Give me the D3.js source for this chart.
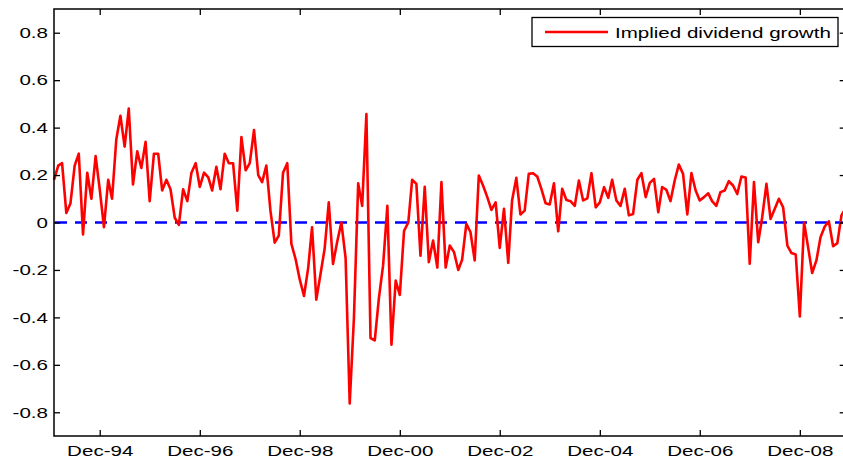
<!DOCTYPE html>
<html>
<head>
<meta charset="utf-8">
<script src="https://cdn.jsdelivr.net/npm/d3@7"></script>
<style>
  body { margin: 0; background: #fff; }
  svg { display: block; }
</style>
</head>
<body>
<div id="wrapper"></div>
<script>

// monthly series, Jan-94 .. Nov-09
const startYear = 1994;
const growth = [
    0.18, 0.24, 0.25, 0.04, 0.08, 0.24, 0.29, -0.05, 0.21, 0.10, 0.28, 0.14,
    -0.02, 0.18, 0.10, 0.35, 0.45, 0.32, 0.48, 0.16, 0.30, 0.23, 0.34, 0.09,
    0.29, 0.29, 0.135, 0.18, 0.14, 0.02, -0.01, 0.14, 0.09, 0.21, 0.25, 0.15,
    0.21, 0.19, 0.135, 0.235, 0.14, 0.29, 0.25, 0.25, 0.05, 0.36, 0.22, 0.25,
    0.39, 0.20, 0.17, 0.24, 0.05, -0.085, -0.055, 0.21, 0.25, -0.09, -0.155, -0.24,
    -0.31, -0.19, -0.02, -0.325, -0.22, -0.11, 0.085, -0.175, -0.08, 0.00, -0.15, -0.763,
    -0.40, 0.165, 0.07, 0.457, -0.487, -0.497, -0.32, -0.18, 0.07, -0.515, -0.245, -0.305,
    -0.035, 0.00, 0.18, 0.163, -0.14, 0.15, -0.167, -0.076, -0.19, 0.17, -0.19, -0.097,
    -0.125, -0.20, -0.157, -0.006, -0.04, -0.16, 0.198, 0.156, 0.107, 0.053, 0.085, -0.107,
    0.058, -0.17, 0.093, 0.188, 0.034, 0.05, 0.205, 0.208, 0.194, 0.142, 0.081, 0.076,
    0.165, -0.037, 0.142, 0.095, 0.09, 0.07, 0.177, 0.093, 0.102, 0.208, 0.064, 0.085,
    0.149, 0.104, 0.18, 0.093, 0.07, 0.142, 0.03, 0.036, 0.18, 0.208, 0.107, 0.167,
    0.184, 0.043, 0.149, 0.138, 0.09, 0.177, 0.244, 0.205, 0.034, 0.208, 0.135, 0.093,
    0.107, 0.123, 0.09, 0.07, 0.128, 0.135, 0.174, 0.156, 0.12, 0.194, 0.19, -0.174,
    0.17, -0.083, 0.022, 0.163, 0.015, 0.058, 0.10, 0.064, -0.097, -0.129, -0.135, -0.396,
    0.00, -0.11, -0.213, -0.16, -0.062, -0.017, 0.005, -0.10, -0.087, 0.03, 0.06
];

const xTickYears = [1994, 1996, 1998, 2000, 2002, 2004, 2006, 2008];
const xTickLabels = ["Dec-94", "Dec-96", "Dec-98", "Dec-00", "Dec-02", "Dec-04", "Dec-06", "Dec-08"];
const yTicks = [-0.8, -0.6, -0.4, -0.2, 0, 0.2, 0.4, 0.6, 0.8];
const yTickLabels = ["-0.8", "-0.6", "-0.4", "-0.2", "0", "0.2", "0.4", "0.6", "0.8"];
const seriesName = "Implied dividend growth";

function drawChart() {

    const data = growth.map((v, i) => ({ date: new Date(startYear, i, 1), value: v }));

    const xAccessor = d => d.date;
    const yAccessor = d => d.value;

    // dimensions (plot box runs slightly past the right edge of the picture)
    const dms = {
        width: 843,
        height: 462,
        left: 54,
        right: 845.7,
        top: 9,
        bottom: 436
    };

    const font = "'Liberation Sans', Arial, sans-serif";
    const stretch = 1.37;   // labels in the picture are stretched horizontally

    const svg = d3.select("#wrapper")
                    .append("svg")
                        .attr("width", dms.width)
                        .attr("height", dms.height);

    svg.append("rect")
        .attr("width", dms.width)
        .attr("height", dms.height)
        .attr("fill", "white");

    // scales
    const xScale = d3.scaleTime()
                    .domain(d3.extent(data, xAccessor))
                    .range([dms.left, dms.right]);

    const yScale = d3.scaleLinear()
                    .domain([-0.9, 0.9])
                    .range([dms.bottom, dms.top]);

    const xTickDates = xTickYears.map(y => new Date(y, 11, 1));

    // zero line
    svg.append("line")
        .attr("x1", dms.left + 1)
        .attr("x2", dms.right)
        .attr("y1", yScale(0))
        .attr("y2", yScale(0))
        .attr("stroke", "#0000ff")
        .attr("stroke-width", 2.3)
        .attr("stroke-dasharray", "12 8");

    // series
    const lineGenerator = d3.line()
                            .x(d => xScale(xAccessor(d)))
                            .y(d => yScale(yAccessor(d)));

    svg.append("path")
        .datum(data)
        .attr("d", lineGenerator)
        .attr("fill", "none")
        .attr("stroke", "#ff0000")
        .attr("stroke-width", 2.6)
        .attr("stroke-linejoin", "round");

    // axes, ticks pointing inward
    const xAxisBottom = d3.axisBottom(xScale)
                            .tickValues(xTickDates)
                            .tickSize(-6)
                            .tickPadding(9)
                            .tickFormat((d, i) => xTickLabels[i]);

    const xAxisTop = d3.axisTop(xScale)
                            .tickValues(xTickDates)
                            .tickSize(-6)
                            .tickFormat("");

    const yAxisLeft = d3.axisLeft(yScale)
                            .tickValues(yTicks)
                            .tickSize(-6)
                            .tickPadding(4.4)
                            .tickFormat((d, i) => yTickLabels[i]);

    const yAxisRight = d3.axisRight(yScale)
                            .tickValues(yTicks)
                            .tickSize(-6)
                            .tickFormat("");

    const axes = [
        svg.append("g").attr("transform", `translate(0, ${dms.bottom})`).call(xAxisBottom),
        svg.append("g").attr("transform", `translate(0, ${dms.top})`).call(xAxisTop),
        svg.append("g").attr("transform", `translate(${dms.left}, 0)`).call(yAxisLeft),
        svg.append("g").attr("transform", `translate(${dms.right}, 0)`).call(yAxisRight)
    ];

    axes.forEach(a => {
        a.select(".domain").remove();
        a.selectAll(".tick line")
            .attr("stroke", "black")
            .attr("stroke-width", 1.3);
        a.selectAll(".tick text")
            .attr("fill", "black")
            .style("font-family", font)
            .style("font-size", "15px")
            .attr("transform", `scale(${stretch}, 1)`);
    });

    // plot box
    svg.append("rect")
        .attr("x", dms.left)
        .attr("y", dms.top)
        .attr("width", dms.right - dms.left)
        .attr("height", dms.bottom - dms.top)
        .attr("fill", "none")
        .attr("stroke", "black")
        .attr("stroke-width", 1.5);

    // legend
    const legend = svg.append("g");

    legend.append("rect")
        .attr("x", 532)
        .attr("y", 17.5)
        .attr("width", 306)
        .attr("height", 29)
        .attr("fill", "white")
        .attr("stroke", "black")
        .attr("stroke-width", 1.3);

    legend.append("line")
        .attr("x1", 545)
        .attr("x2", 608)
        .attr("y1", 32)
        .attr("y2", 32)
        .attr("stroke", "#ff0000")
        .attr("stroke-width", 2.6);

    legend.append("text")
        .attr("transform", `translate(615, 38) scale(${stretch}, 1)`)
        .attr("fill", "black")
        .style("font-family", font)
        .style("font-size", "15px")
        .text(seriesName);
}

drawChart();
</script>
</body>
</html>
